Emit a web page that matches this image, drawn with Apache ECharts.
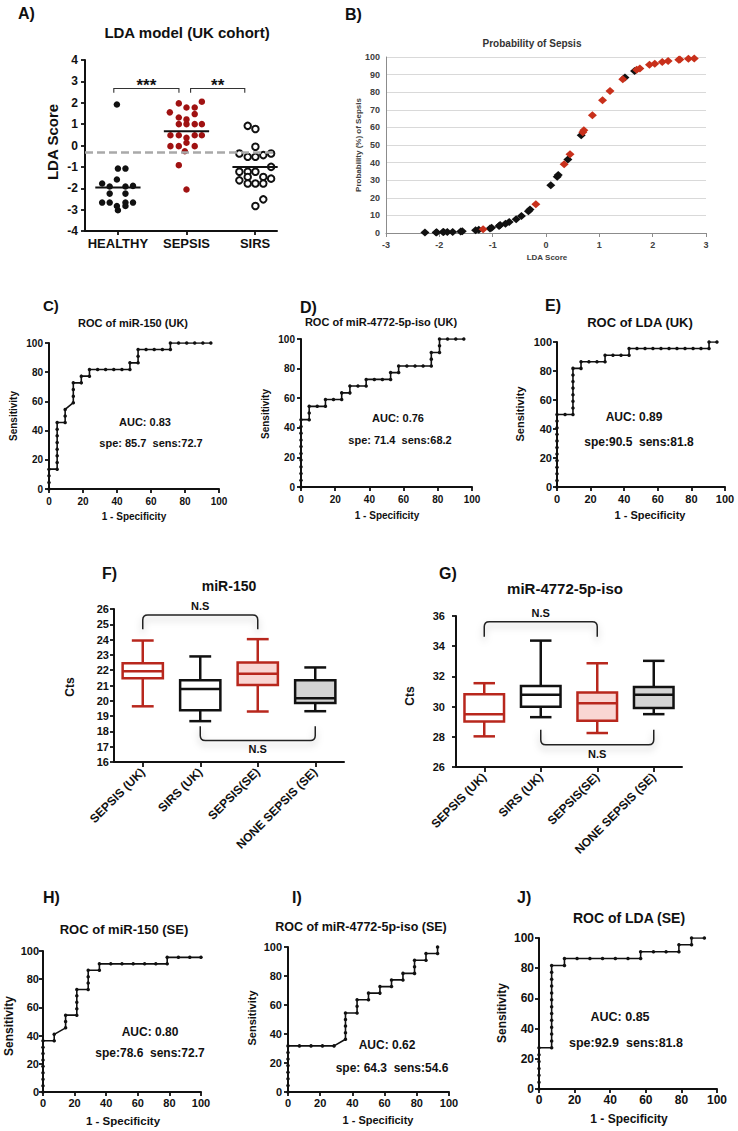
<!DOCTYPE html>
<html><head><meta charset="utf-8">
<script src="https://cdn.jsdelivr.net/npm/echarts@6/dist/echarts.min.js"></script>
<style>html,body{margin:0;padding:0;background:#fff}#c{width:738px;height:1131px}</style>
</head><body><div id="c"></div>
<script>
// ---------------- DATA ----------------
// Panel A: LDA model (UK cohort) — [x position (category 1..3 with jitter), LDA score]
const aCategories = ['HEALTHY', 'SEPSIS', 'SIRS'];
const aHealthy = [[0.985,1.92],[1.0,-1.08],[1.11,-1.08],[0.985,-1.59],[0.77,-1.78],[0.88,-1.92],[1.11,-1.92],[1.22,-1.89],[0.88,-2.25],[1.11,-2.25],[0.77,-2.67],[0.88,-2.67],[1.11,-2.67],[1.22,-2.67],[0.985,-2.83],[1.11,-2.83],[1.0,-3.03]];
const aSepsis = [[1.757,1.55],[1.888,1.97],[2.0,1.78],[2.12,1.78],[2.224,2.05],[1.888,1.31],[2.0,1.22],[2.12,1.47],[1.888,1.0],[2.0,1.0],[2.12,1.0],[2.224,1.0],[1.766,0.48],[1.888,0.48],[2.0,0.36],[2.12,0.48],[2.224,0.48],[1.766,-0.03],[1.888,-0.03],[2.0,0.13],[2.12,-0.03],[1.976,-0.27],[1.888,-0.92],[2.0,-2.06]];
const aSirs = [[2.893,0.92],[3.005,0.77],[3.005,-0.06],[2.771,-0.375],[3.234,-0.375],[2.893,-0.53],[3.005,-0.53],[3.12,-0.45],[3.234,-1.0],[2.771,-1.23],[2.893,-1.23],[3.005,-1.23],[2.893,-1.47],[3.12,-1.47],[2.771,-1.63],[3.234,-1.55],[2.893,-1.78],[3.005,-1.78],[3.12,-1.78],[3.12,-2.52],[3.005,-2.83]];
const aMeans = [[1,-1.97],[2,0.67],[3,-1.0]];
const aCutoff = -0.3;
const aBrackets = [[0.94,1.89,2.67,2.47],[2.06,2.85,2.67,2.47]];
const aBracketLabels = ['***','**'];

// Panel B: Probability of Sepsis — [LDA score, probability %]
const bNonSepsis = [[-2.27,0.3],[-2.06,0.3],[-2.05,0.4],[-1.93,0.5],[-1.92,0.6],[-1.85,0.6],[-1.75,0.6],[-1.6,0.9],[-1.57,1.0],[-1.32,1.5],[-1.26,1.8],[-1.05,2.6],[-1.02,3.0],[-0.88,4.0],[-0.86,4.5],[-0.76,5.3],[-0.69,6.2],[-0.56,7.8],[-0.46,9.7],[-0.33,12.3],[-0.3,13.3],[0.09,27.1],[0.21,32.0],[0.23,33.0],[0.41,41.7],[0.66,55.5],[1.48,88.3],[1.66,92.0]];
const bSepsis = [[-1.18,2.1],[-0.19,16.3],[0.34,39.0],[0.45,44.7],[0.69,57.2],[0.71,58.4],[0.87,66.9],[1.06,75.4],[1.2,80.7],[1.44,87.3],[1.7,92.8],[1.76,93.4],[1.94,95.6],[2.04,96.2],[2.18,97.2],[2.29,97.7],[2.49,98.4],[2.51,98.6],[2.67,99.0],[2.78,99.2]];

// ROC curves — [1 - specificity %, sensitivity %]
const rocC = [[0,0],[0,4.5],[0,9.1],[0,13.6],[4.8,13.6],[4.8,18.2],[4.8,22.7],[4.8,27.3],[4.8,31.8],[4.8,36.4],[4.8,40.9],[4.8,45.5],[9.5,45.5],[9.5,50],[9.5,54.5],[14.3,59.1],[14.3,63.6],[14.3,68.2],[14.3,72.7],[19,72.7],[19,77.3],[23.8,77.3],[23.8,81.8],[28.6,81.8],[33.3,81.8],[38.1,81.8],[42.9,81.8],[47.6,81.8],[47.6,86.4],[52.4,86.4],[52.4,90.9],[52.4,95.5],[57.1,95.5],[61.9,95.5],[66.7,95.5],[71.4,95.5],[71.4,100],[76.2,100],[81,100],[85.7,100],[90.5,100],[95.2,100]];
const rocD = [[0,0],[0,4.5],[0,9.1],[0,13.6],[0,18.2],[0,22.7],[0,27.3],[0,31.8],[0,36.4],[0,40.9],[0,45.5],[4.8,45.5],[4.8,50],[4.8,54.5],[9.5,54.5],[14.3,54.5],[14.3,59.1],[19,59.1],[23.8,59.1],[23.8,63.6],[28.6,63.6],[28.6,68.2],[33.3,68.2],[38.1,68.2],[38.1,72.7],[42.9,72.7],[47.6,72.7],[52.4,72.7],[52.4,77.3],[57.1,77.3],[57.1,81.8],[61.9,81.8],[66.7,81.8],[71.4,81.8],[76.2,81.8],[76.2,86.4],[76.2,90.9],[81,90.9],[81,95.5],[81,100],[85.7,100],[90.5,100],[95.2,100]];
const rocE = [[0,0],[0,4.5],[0,9.1],[0,13.6],[0,18.2],[0,22.7],[0,27.3],[0,31.8],[0,36.4],[0,40.9],[0,45.5],[0,50],[4.8,50],[9.5,50],[9.5,54.5],[9.5,59.1],[9.5,63.6],[9.5,68.2],[9.5,72.7],[9.5,77.3],[9.5,81.8],[14.3,81.8],[14.3,86.4],[19,86.4],[23.8,86.4],[28.6,86.4],[28.6,90.9],[33.3,90.9],[38.1,90.9],[42.9,90.9],[42.9,95.5],[47.6,95.5],[52.4,95.5],[57.1,95.5],[61.9,95.5],[66.7,95.5],[71.4,95.5],[76.2,95.5],[81,95.5],[85.7,95.5],[90.5,95.5],[90.5,100],[95.2,100]];
const rocH = [[0,0],[0,4.5],[0,9.1],[0,13.6],[0,18.2],[0,22.7],[0,27.3],[0,31.8],[0,36.4],[7.1,36.4],[7.1,40.9],[14.3,45.5],[14.3,50],[14.3,54.5],[21.4,54.5],[21.4,59.1],[21.4,63.6],[21.4,68.2],[21.4,72.7],[28.6,72.7],[28.6,77.3],[28.6,81.8],[28.6,86.4],[35.7,86.4],[35.7,90.9],[42.9,90.9],[50,90.9],[57.1,90.9],[64.3,90.9],[71.4,90.9],[78.6,90.9],[78.6,95.5],[85.7,95.5],[92.9,95.5],[100,95.5]];
const rocI = [[0,0],[0,4.5],[0,9.1],[0,13.6],[0,18.2],[0,22.7],[0,27.3],[0,31.8],[7.1,31.8],[14.3,31.8],[21.4,31.8],[28.6,31.8],[35.7,36.4],[35.7,40.9],[35.7,45.5],[35.7,50],[35.7,54.5],[42.9,54.5],[42.9,59.1],[42.9,63.6],[50,63.6],[50,68.2],[57.1,68.2],[57.1,72.7],[64.3,72.7],[64.3,77.3],[71.4,77.3],[71.4,81.8],[78.6,81.8],[78.6,86.4],[78.6,90.9],[85.7,90.9],[85.7,95.5],[92.9,95.5],[92.9,100]];
const rocJ = [[0,0],[0,4.5],[0,9.1],[0,13.6],[0,18.2],[0,22.7],[0,27.3],[7.1,27.3],[7.1,31.8],[7.1,36.4],[7.1,40.9],[7.1,45.5],[7.1,50],[7.1,54.5],[7.1,59.1],[7.1,63.6],[7.1,68.2],[7.1,72.7],[7.1,77.3],[7.1,81.8],[14.3,81.8],[14.3,86.4],[21.4,86.4],[28.6,86.4],[35.7,86.4],[42.9,86.4],[50,86.4],[57.1,86.4],[57.1,90.9],[64.3,90.9],[71.4,90.9],[78.6,90.9],[78.6,95.5],[85.7,95.5],[85.7,100],[92.9,100]];

// Panels F & G: box plots [min, Q1, median, Q3, max]
const fgCategories = ['SEPSIS (UK)', 'SIRS (UK)', 'SEPSIS(SE)', 'NONE SEPSIS (SE)'];
const fBoxes = [[19.64,21.47,21.93,22.46,23.94],[18.67,19.38,20.77,21.34,22.9],[19.3,21.03,21.77,22.5,24.03],[19.32,19.86,20.17,21.34,22.18]];
const gBoxes = [[28.03,29.02,29.5,30.82,31.55],[29.3,29.99,30.78,31.37,34.37],[28.25,29.06,30.23,30.93,32.87],[29.5,29.9,30.78,31.29,33.03]];
// brackets: [from category, to category, bar value, end value]
const fBrackets = [[0,2,25.6,24.68],[1,3,17.41,18.34]];
const gBrackets = [[0,2,35.62,34.63],[1,3,27.47,28.46]];
const fgBracketLabels = ['N.S','N.S'];

// ---------------- STYLE ----------------
const FONT = '"Liberation Sans", Arial, Helvetica, sans-serif';
const INK = '#111111';
const RED_BOX = '#b8271d';
const RED_DOT = '#a01212';
const RED_B = '#c8301b';
const boxStyles = [
  {stroke: RED_BOX, fill: '#ffffff'},
  {stroke: INK, fill: '#ffffff'},
  {stroke: RED_BOX, fill: '#f9d6d3'},
  {stroke: INK, fill: '#d4d4d4'}
];

function axisBase(gi, fs, margin) {
  return {
    gridIndex: gi,
    axisLine: {show: true, onZero: false, lineStyle: {color: INK, width: 2}},
    axisTick: {show: true, length: 4, lineStyle: {color: INK, width: 1.8}},
    axisLabel: {color: INK, fontWeight: 'bold', fontSize: fs, fontFamily: FONT, margin: margin},
    splitLine: {show: false}
  };
}
function valAxis(gi, min, max, interval, fs, margin) {
  return Object.assign(axisBase(gi, fs, margin), {type: 'value', min: min, max: max, interval: interval});
}
function catAxis(gi) {
  const a = axisBase(gi, 12, 8);
  a.type = 'category';
  a.data = fgCategories;
  a.boundaryGap = true;
  a.axisTick.alignWithLabel = true;
  a.axisTick.length = 5;
  a.axisLabel.rotate = 45;
  a.axisLabel.interval = 0;
  return a;
}

const grids = [
  {left: 85, top: 60, width: 192, height: 171},
  {left: 386, top: 57, width: 320, height: 176},
  {left: 49, top: 343, width: 170, height: 146},
  {left: 301, top: 339, width: 171, height: 148},
  {left: 557, top: 342, width: 168, height: 145},
  {left: 114, top: 609, width: 230, height: 153},
  {left: 456, top: 616, width: 226, height: 151},
  {left: 43, top: 951, width: 158, height: 141},
  {left: 288, top: 947, width: 161, height: 145},
  {left: 539, top: 938, width: 178, height: 151}
].map(g => Object.assign(g, {containLabel: false, outerBoundsMode: 'none'}));

const aTickPos = aCategories.map((c, i) => i + 1);
const xA = axisBase(0, 13, 6);
xA.type = 'value'; xA.min = 0.52; xA.max = 3.32;
xA.axisTick.customValues = aTickPos;
xA.axisLabel.customValues = aTickPos;
xA.axisLabel.formatter = v => aCategories[Math.round(v) - 1] || '';

const grayAxis = {color: '#8c8c8c', width: 1};
const xB = {type: 'value', gridIndex: 1, min: -3, max: 3, interval: 1,
  axisLine: {show: true, onZero: false, lineStyle: grayAxis},
  axisTick: {show: true, length: 4, lineStyle: grayAxis},
  axisLabel: {fontSize: 9, fontWeight: 'bold', color: '#404040', fontFamily: FONT, margin: 7},
  splitLine: {show: false}};
const yB = {type: 'value', gridIndex: 1, min: 0, max: 100, interval: 10,
  axisLine: {show: true, onZero: false, lineStyle: grayAxis},
  axisTick: {show: false},
  axisLabel: {fontSize: 9, fontWeight: 'bold', color: '#404040', fontFamily: FONT, margin: 6},
  splitLine: {show: true, lineStyle: {color: '#d9d9d9', width: 1}}};

const xAxes = [
  xA, xB,
  valAxis(2, 0, 100, 20, 10, 7),
  valAxis(3, 0, 100, 20, 10, 7),
  valAxis(4, 0, 100, 20, 11, 6),
  catAxis(5), catAxis(6),
  valAxis(7, 0, 100, 20, 11, 5),
  valAxis(8, 0, 100, 20, 11, 5),
  valAxis(9, 0, 100, 20, 12, 5)
];
const yAxes = [
  valAxis(0, -4, 4, 1, 12, 7), yB,
  valAxis(2, 0, 100, 20, 10, 6),
  valAxis(3, 0, 100, 20, 10, 6),
  valAxis(4, 0, 100, 20, 11, 5),
  valAxis(5, 16, 26, 1, 11, 5),
  valAxis(6, 26, 36, 2, 11, 11),
  valAxis(7, 0, 100, 20, 11, 4),
  valAxis(8, 0, 100, 20, 11, 6),
  valAxis(9, 0, 100, 20, 12, 5)
];

// ---------------- RENDERERS ----------------
function bracketRender(labels, opt) {
  return function (params, api) {
    const p1 = api.coord([api.value(0), api.value(2)]);
    const p2 = api.coord([api.value(1), api.value(2)]);
    const yEnd = api.coord([api.value(0), api.value(3)])[1];
    const yBar = p1[1];
    const dir = yEnd > yBar ? 1 : -1;
    const x1 = p1[0], x2 = p2[0], r = opt.radius;
    let d;
    if (r > 0) {
      d = 'M' + x1 + ',' + yEnd + ' L' + x1 + ',' + (yBar + dir * r) + ' Q' + x1 + ',' + yBar + ' ' + (x1 + r) + ',' + yBar +
          ' L' + (x2 - r) + ',' + yBar + ' Q' + x2 + ',' + yBar + ' ' + x2 + ',' + (yBar + dir * r) + ' L' + x2 + ',' + yEnd;
    } else {
      d = 'M' + x1 + ',' + yEnd + ' L' + x1 + ',' + yBar + ' L' + x2 + ',' + yBar + ' L' + x2 + ',' + yEnd;
    }
    const style = {stroke: opt.color, lineWidth: opt.width, fill: 'none'};
    if (opt.shadow) { style.shadowBlur = 7; style.shadowColor = 'rgba(0,0,0,0.28)'; style.shadowOffsetY = 4; }
    return {type: 'group', children: [
      {type: 'path', shape: {pathData: d}, style: style},
      {type: 'text', x: (x1 + x2) / 2, y: yBar - dir * opt.labelGap,
        style: {text: labels[params.dataIndex], font: 'bold ' + opt.fontSize + 'px ' + FONT, fill: INK,
          textAlign: 'center', textVerticalAlign: 'middle'}}
    ]};
  };
}

function boxRender(params, api) {
  const i = api.value(0);
  const lo = api.value(1), q1 = api.value(2), med = api.value(3), q3 = api.value(4), hi = api.value(5);
  const bw = api.size([1, 0])[0];
  const st = boxStyles[i];
  const x = api.coord([i, med])[0];
  const yLo = api.coord([i, lo])[1], yQ1 = api.coord([i, q1])[1], yMed = api.coord([i, med])[1];
  const yQ3 = api.coord([i, q3])[1], yHi = api.coord([i, hi])[1];
  const hw = bw * 0.35, cw = bw * 0.19;
  const ls = {stroke: st.stroke, lineWidth: 2.5, fill: 'none'};
  return {type: 'group', children: [
    {type: 'line', shape: {x1: x, y1: yHi, x2: x, y2: yQ3}, style: ls},
    {type: 'line', shape: {x1: x, y1: yQ1, x2: x, y2: yLo}, style: ls},
    {type: 'line', shape: {x1: x - cw, y1: yHi, x2: x + cw, y2: yHi}, style: ls},
    {type: 'line', shape: {x1: x - cw, y1: yLo, x2: x + cw, y2: yLo}, style: ls},
    {type: 'rect', shape: {x: x - hw, y: yQ3, width: 2 * hw, height: yQ1 - yQ3}, style: {fill: st.fill, stroke: st.stroke, lineWidth: 2.5}},
    {type: 'line', shape: {x1: x - hw, y1: yMed, x2: x + hw, y2: yMed}, style: ls}
  ]};
}

function meanRender(params, api) {
  const a = api.coord([api.value(0) - 0.33, api.value(1)]);
  const b = api.coord([api.value(0) + 0.33, api.value(1)]);
  return {type: 'line', shape: {x1: a[0], y1: a[1], x2: b[0], y2: b[1]}, style: {stroke: INK, lineWidth: 2}};
}

// ---------------- SERIES ----------------
const series = [];
series.push({type: 'scatter', xAxisIndex: 0, yAxisIndex: 0, data: aHealthy, symbol: 'circle', symbolSize: 6.5,
  itemStyle: {color: INK, opacity: 1},
  markLine: {silent: true, symbol: 'none', label: {show: false},
    lineStyle: {type: [8, 4], color: '#a9a9a9', width: 2.5}, data: [{yAxis: aCutoff}]}});
series.push({type: 'scatter', xAxisIndex: 0, yAxisIndex: 0, data: aSepsis, symbol: 'circle', symbolSize: 6.5,
  itemStyle: {color: RED_DOT, opacity: 1}});
series.push({type: 'scatter', xAxisIndex: 0, yAxisIndex: 0, data: aSirs, symbol: 'circle', symbolSize: 6.5,
  itemStyle: {color: '#ffffff', borderColor: INK, borderWidth: 2, opacity: 1}});
series.push({type: 'custom', xAxisIndex: 0, yAxisIndex: 0, data: aMeans, renderItem: meanRender, z: 5});
series.push({type: 'custom', xAxisIndex: 0, yAxisIndex: 0, data: aBrackets, encode: {x: [0, 1], y: [2, 3]},
  renderItem: bracketRender(aBracketLabels, {radius: 0, color: '#333', width: 1.1, labelGap: 3, fontSize: 17, shadow: false})});

series.push({type: 'scatter', xAxisIndex: 1, yAxisIndex: 1, data: bNonSepsis, symbol: 'diamond', symbolSize: [9, 8],
  itemStyle: {color: INK, opacity: 1}});
series.push({type: 'scatter', xAxisIndex: 1, yAxisIndex: 1, data: bSepsis, symbol: 'diamond', symbolSize: [9, 8],
  itemStyle: {color: RED_B, opacity: 1}});

const rocSets = [rocC, rocD, rocE, rocH, rocI, rocJ];
const rocGrids = [2, 3, 4, 7, 8, 9];
rocSets.forEach((d, k) => {
  series.push({type: 'line', xAxisIndex: rocGrids[k], yAxisIndex: rocGrids[k], data: d,
    symbol: 'circle', symbolSize: 3.5, showSymbol: true, showAllSymbol: true,
    lineStyle: {color: INK, width: 1.6}, itemStyle: {color: INK}});
});

[[fBoxes, fBrackets, 5], [gBoxes, gBrackets, 6]].forEach(([boxes, brackets, gi]) => {
  series.push({type: 'custom', xAxisIndex: gi, yAxisIndex: gi,
    data: boxes.map((b, i) => [i].concat(b)), encode: {x: 0, y: [1, 2, 3, 4, 5]}, renderItem: boxRender});
  series.push({type: 'custom', xAxisIndex: gi, yAxisIndex: gi, data: brackets, encode: {x: [0, 1], y: [2, 3]},
    renderItem: bracketRender(fgBracketLabels, {radius: 5, color: '#222', width: 1.5, labelGap: 9, fontSize: 11, shadow: true})});
});

// ---------------- FREE TEXT ----------------
function T(text, x, y, size, o) {
  o = o || {};
  return {type: 'text', x: x, y: y, rotation: o.rot ? Math.PI / 2 : 0, silent: true,
    style: {text: text, font: 'bold ' + size + 'px ' + FONT, fill: o.color || INK,
      textAlign: o.align || 'center', textVerticalAlign: 'middle'}};
}
const NB = '\u00a0';
const texts = [
  // panel letters
  T('A)', 18, 13, 16, {align: 'left'}), T('B)', 345, 14, 16, {align: 'left'}),
  T('C)', 43, 305, 15, {align: 'left'}), T('D)', 300, 307, 16, {align: 'left'}),
  T('E)', 545, 305, 16, {align: 'left'}), T('F)', 102, 573, 16, {align: 'left'}),
  T('G)', 439, 573, 16, {align: 'left'}), T('H)', 43, 897, 16, {align: 'left'}),
  T('I)', 292, 897, 16, {align: 'left'}), T('J)', 517, 897, 16, {align: 'left'}),
  // titles
  T('LDA model (UK cohort)', 187, 32, 15),
  T('Probability of Sepsis', 532, 43, 10, {color: '#333'}),
  T('ROC of miR-150 (UK)', 133, 323, 11),
  T('ROC of miR-4772-5p-iso (UK)', 381, 322, 11),
  T('ROC of LDA (UK)', 640, 322, 13),
  T('miR-150', 229, 586, 14),
  T('miR-4772-5p-iso', 565, 588, 15),
  T('ROC of miR-150 (SE)', 124, 929, 13),
  T('ROC of miR-4772-5p-iso (SE)', 361, 927, 12.5),
  T('ROC of LDA (SE)', 629, 918, 14),
  // AUC annotations
  T('AUC: 0.83', 145, 422, 11), T('spe: 85.7 ' + NB + 'sens:72.7', 151, 443, 11),
  T('AUC: 0.76', 398, 418, 11), T('spe: 71.4 ' + NB + 'sens:68.2', 400, 440, 11),
  T('AUC: 0.89', 634, 417, 12), T('spe:90.5 ' + NB + 'sens:81.8', 639, 442, 12),
  T('AUC: 0.80', 150, 1032, 12), T('spe:78.6 ' + NB + 'sens:72.7', 150, 1053, 12),
  T('AUC: 0.62', 387, 1045, 12), T('spe: 64.3 ' + NB + 'sens:54.6', 392, 1068, 12),
  T('AUC: 0.85', 620, 1017, 12.5), T('spe:92.9 ' + NB + 'sens:81.8', 626, 1043, 12.5),
  // axis titles
  T('LDA Score', 52, 142, 15, {rot: true}),
  T('Probability (%) of Sepsis', 358, 145, 8, {rot: true, color: '#404040'}),
  T('LDA Score', 547, 257, 8, {color: '#404040'}),
  T('Sensitivity', 13, 416, 10, {rot: true}), T('1 - Specificity', 134, 516, 10),
  T('Sensitivity', 265, 414, 10, {rot: true}), T('1 - Specificity', 387, 515, 10),
  T('Sensitivity', 520, 414, 11, {rot: true}), T('1 - Specificity', 650, 515, 11),
  T('Cts', 70, 687, 12, {rot: true}),
  T('Cts', 410, 696, 12, {rot: true}),
  T('Sensitivity', 9, 1026, 12, {rot: true}), T('1 - Specificity', 123, 1121, 11.5),
  T('Sensitivity', 252, 1018, 11, {rot: true}), T('1 - Specificity', 378, 1120, 11),
  T('Sensitivity', 502, 1013, 12, {rot: true}), T('1 - Specificity', 629, 1119, 12)
];

const chart = echarts.init(document.getElementById('c'), null, {renderer: 'svg', width: 738, height: 1131});
chart.setOption({
  backgroundColor: '#ffffff',
  animation: false,
  textStyle: {fontFamily: FONT},
  grid: grids,
  xAxis: xAxes,
  yAxis: yAxes,
  series: series,
  graphic: {elements: texts}
});
</script></body></html>
